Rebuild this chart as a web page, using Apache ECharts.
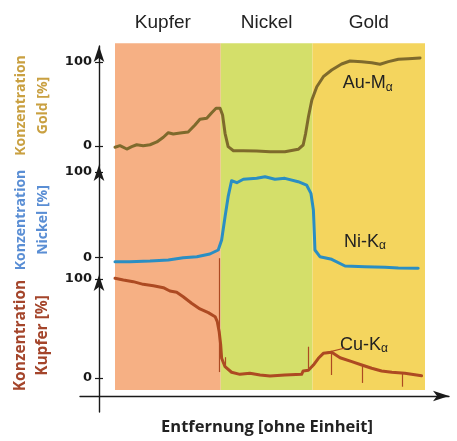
<!DOCTYPE html>
<html><head><meta charset="utf-8">
<script src="https://cdn.jsdelivr.net/npm/echarts@6/dist/echarts.min.js"></script>
<style>html,body{margin:0;padding:0;background:#fff}#c{width:457px;height:441px}</style>
</head><body><div id="c"></div>
<script>
// ---- data ----
const regions = ['Kupfer', 'Nickel', 'Gold'];
const regionBounds = [0, 34.1, 63.7, 100];
const yTicks = [0, 100];
const seriesNames = ['Au-M', 'Ni-K', 'Cu-K'];
const axisTitles = ['Konzentration\nGold [%]', 'Konzentration\nNickel [%]', 'Konzentration\nKupfer [%]'];
const xTitle = 'Entfernung [ohne Einheit]';

const goldX = [0,1.6,3.8,5.4,7.0,9.1,11.3,13.5,15.6,17.2,18.8,21.0,23.6,25.8,27.4,29.6,31.2,32.6,33.9,34.7,35.5,36.5,38.2,41.4,45.7,50,54.8,59.1,60.7,61.5,62.4,63.5,65.1,67.2,69.9,73.1,75.8,79.6,82.8,85.5,88.2,91.4,94.6,98.4];
const goldY = [-1.5,0.4,-3.6,-0.8,1.5,0.4,1.5,4.8,10.4,15.8,14.3,15.5,16.7,25,31.8,33,39.6,44.9,44.9,36.9,15.1,-0.8,-5.6,-5.6,-6,-6.8,-6.8,-3.9,1.2,15.1,34.9,54.8,70.6,82.5,90.5,97.6,101.2,100.4,99.2,97.3,100.4,103.2,103.9,104.8];

const nickelX = [0,4.8,11.3,17.2,22.0,26.4,30.6,33.3,34.4,35.5,36.5,37.6,39.3,41.4,45.7,48.4,51.6,54.8,59.1,61.8,63.2,64.0,64.3,64.5,66.1,69.9,74.2,80.6,87.1,91.4,97.8];
const nickelY = [-4.7,-4.7,-3.9,-2.7,0,1.2,4.3,9.0,20.7,47.8,71.2,89.8,87.5,91.5,92.6,94.5,91.5,92.6,88.7,84.8,75.1,55.7,28.5,9.0,1.2,-1.9,-9.7,-10.5,-11.2,-12,-12.4];

const copperX = [0,2.7,5.9,9.1,12.4,15.6,17.7,19.9,22.0,24.7,27.4,30.1,32.3,33.0,33.6,34.1,34.4,35.5,37.6,40.3,43.5,46.8,50,54.8,60.2,60.7,62.4,64.0,65.6,67.2,69.9,72.6,76.4,79.6,82.8,86.0,89.3,93.5,98.9];
const copperY = [100.7,99,97.3,94.6,93.2,91.2,87.9,86.6,82.1,75.5,69.7,66,61.9,56.9,46.8,33.3,19.9,11.4,5.8,3.7,4.7,3,2,3,3.7,7.1,7.8,13.1,19.9,24.9,26,20.5,16.5,13.1,9.8,7.1,5.8,4.7,2.3];

// thin spikes on the copper trace
const cuSpikeX1 = [33.6, 35.5, 62.4, 69.9, 79.6, 92.7, 67.2];
const cuSpikeY1 = [6, 11, 7.8, 26, 13.1, 5.3, 24.9];
const cuSpikeX2 = [33.6, 35.5, 62.4, 69.9, 79.6, 92.7, 74.2];
const cuSpikeY2 = [121, 21, 31.6, 3, -5, -8.8, 30.3];

// label anchors (data coords)
const labelX = [73.5, 73.9, 72.6];
const labelY = [74.6, 18.7, 33.3];

// ---- styling / layout ----
const regionColors = ['#f6b084', '#d4df6a', '#f4d55e'];
const lineColors = ['#7e6a2c', '#2a8ec3', '#ad4a22'];
const titleColors = ['#c9a041', '#5a8ed4', '#a4452b'];
const panels = [
  {zero: 146, hundred: 62, top: 46, bottom: 165, titleSize: 14, titleShift: 0},
  {zero: 257.7, hundred: 172, top: 165, bottom: 275, titleSize: 14, titleShift: 0},
  {zero: 378, hundred: 279, top: 275, bottom: 412, titleSize: 15.5, titleShift: 16}
];
const gridLeft = 99, dataLeft = 115, dataRight = 425;
const pxPerX = (dataRight - dataLeft) / 100;
const xMin = -(dataLeft - gridLeft) / pxPerX;

const zip = (a, b) => a.map((v, i) => [v, b[i]]);
const panelData = [zip(goldX, goldY), zip(nickelX, nickelY), zip(copperX, copperY)];

const grids = [{left: gridLeft, right: 457 - dataRight, top: 43.3, height: 346.7}];
const xAxes = [{type: 'value', gridIndex: 0, min: xMin, max: 100, show: false}];
const yAxes = [{type: 'value', gridIndex: 0, min: 0, max: 1, show: false}];
const series = [];

series.push({
  type: 'line', xAxisIndex: 0, yAxisIndex: 0, data: [[0, 0]], showSymbol: false,
  lineStyle: {opacity: 0}, silent: true, z: 0,
  markArea: {
    silent: true,
    data: regions.map((r, i) => [
      {name: r, xAxis: regionBounds[i], itemStyle: {color: regionColors[i]},
       label: {show: true, position: 'top', distance: 11, offset: [i === 0 ? -5 : 0, 0],
               fontFamily: 'Liberation Sans', fontSize: 19, color: '#222'}},
      {xAxis: regionBounds[i + 1]}
    ])
  }
});

panels.forEach((p, i) => {
  const gi = i + 1;
  const k = (p.zero - p.hundred) / 100;
  const min = -(p.bottom - p.zero) / k, max = (p.zero - p.top) / k;
  grids.push({left: gridLeft, right: 457 - dataRight, top: p.top, height: p.bottom - p.top});
  xAxes.push({type: 'value', gridIndex: gi, min: xMin, max: 100, show: false});
  const yi = yAxes.length;
  yAxes.push({
    type: 'value', gridIndex: gi, min: min, max: max, position: 'left',
    axisLine: {show: true, onZero: false, lineStyle: {color: '#1a1a1a', width: 1.4}, symbol: ['none', 'arrow'], symbolSize: [8, 16]},
    axisTick: {show: true, customValues: yTicks, length: 4, lineStyle: {color: '#1a1a1a', width: 1.2}},
    axisLabel: {show: true, customValues: yTicks, margin: 7, fontFamily: 'DejaVu Sans', fontWeight: 'bold', fontSize: 13, color: '#1a1a1a'},
    splitLine: {show: false},
    name: axisTitles[i], nameLocation: 'middle', nameRotate: 90, nameGap: 36,
    nameTextStyle: {color: titleColors[i], fontFamily: 'Open Sans', fontWeight: 'bold', fontSize: p.titleSize, lineHeight: 22, align: 'center',
                    padding: [0, 0, 0, p.titleShift]}
  });
  yAxes.push({
    type: 'value', gridIndex: gi, min: min, max: max, position: 'left',
    axisLine: {show: false, onZero: false},
    axisTick: {show: true, inside: true, customValues: yTicks, length: 4, lineStyle: {color: '#1a1a1a', width: 1.2}},
    axisLabel: {show: false}, splitLine: {show: false}
  });
  series.push({
    type: 'line', name: seriesNames[i], xAxisIndex: gi, yAxisIndex: yi, data: panelData[i],
    showSymbol: false, symbol: 'none', smooth: false, clip: false, z: 5,
    lineStyle: {color: lineColors[i], width: 3, join: 'round', cap: 'round'},
    markPoint: {
      silent: true, symbol: 'circle', symbolSize: 0,
      data: [{coord: [labelX[i], labelY[i]]}],
      label: {
        show: true, position: 'right', distance: 0,
        formatter: '{m|' + seriesNames[i] + '}{s|α}',
        rich: {
          m: {fontFamily: 'Liberation Sans', fontSize: 18, color: '#222', lineHeight: 20},
          s: {fontFamily: 'Liberation Sans', fontSize: 12, color: '#222', lineHeight: 20, verticalAlign: 'bottom', padding: [6, 0, 0, 0]}
        }
      }
    }
  });
  if (i === 2) {
    series.push({
      type: 'lines', coordinateSystem: 'cartesian2d', xAxisIndex: gi, yAxisIndex: yi, z: 6, silent: true, clip: false,
      lineStyle: {color: lineColors[i], width: 1.2, opacity: 1},
      data: cuSpikeX1.map((x, j) => ({coords: [[x, cuSpikeY1[j]], [cuSpikeX2[j], cuSpikeY2[j]]]}))
    });
  }
});

// x axis line with arrow
grids.push({left: 80, right: 8, top: 43, bottom: 441 - 399});
xAxes.push({
  type: 'value', gridIndex: 4, min: 0, max: 1, position: 'bottom',
  axisLine: {show: true, onZero: false, lineStyle: {color: '#1a1a1a', width: 1.4}, symbol: ['none', 'arrow'], symbolSize: [8, 16]},
  axisTick: {show: false}, axisLabel: {show: false}, splitLine: {show: false},
  name: xTitle, nameLocation: 'middle', nameGap: 23,
  nameTextStyle: {fontFamily: 'Open Sans', fontWeight: 'bold', fontSize: 16.5, color: '#222', padding: [0, 0, 0, 5]}
});
yAxes.push({type: 'value', gridIndex: 4, min: 0, max: 1, show: false});

const chart = echarts.init(document.getElementById('c'), null, {renderer: 'canvas'});
chart.setOption({
  animation: false,
  grid: grids, xAxis: xAxes, yAxis: yAxes, series: series
});
</script>
</body></html>
